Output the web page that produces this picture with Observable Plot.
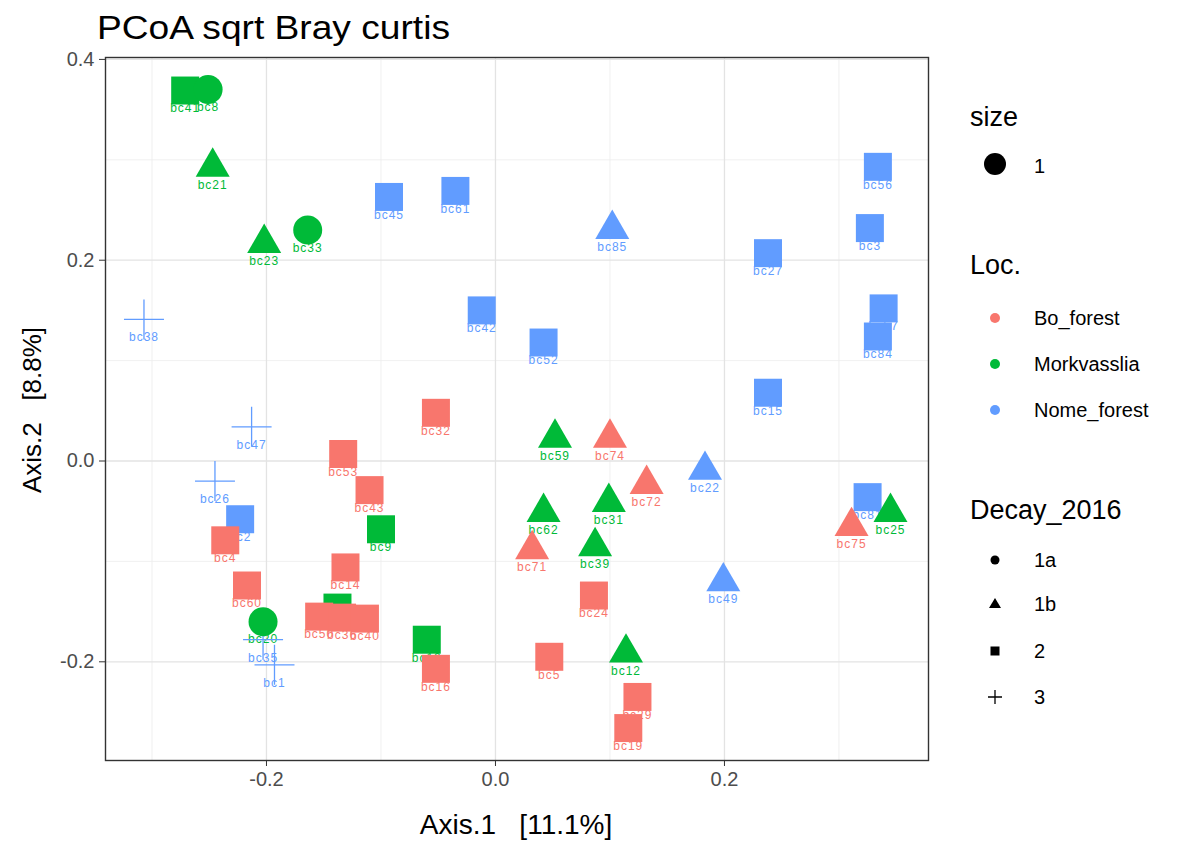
<!DOCTYPE html>
<html>
<head>
<meta charset="utf-8">
<script src="https://cdn.jsdelivr.net/npm/d3@7"></script>
<script src="https://cdn.jsdelivr.net/npm/@observablehq/plot@0.6"></script>
<style>
  html, body { margin: 0; padding: 0; background: #fff; }
  #wrap { position: relative; width: 1190px; height: 841px; font-family: "Liberation Sans", Arial, sans-serif; }
  #wrap > svg { position: absolute; left: 0; top: 0; }
  #chart g[aria-label="text"] text { letter-spacing: 1px; }
  .pre { white-space: pre; }
</style>
</head>
<body>
<div id="wrap"><div id="chart"></div></div>
<script>
// ---- data ----
const sampleIds = [
  // Nome_forest
  "bc45","bc61","bc85","bc42","bc52","bc56","bc3","bc27","bc57","bc84","bc15","bc22","bc49","bc81","bc2",
  "bc38","bc47","bc26","bc35","bc1",
  // Morkvasslia
  "bc41","bc8","bc21","bc23","bc33","bc59","bc62","bc31","bc39","bc12","bc9","bc7","bc10","bc25","bc20",
  // Bo_forest
  "bc32","bc74","bc72","bc71","bc24","bc5","bc16","bc29","bc19","bc75","bc53","bc43","bc14","bc50","bc36","bc40","bc4","bc60"
];
const locs = [
  "Nome_forest","Nome_forest","Nome_forest","Nome_forest","Nome_forest","Nome_forest","Nome_forest","Nome_forest","Nome_forest","Nome_forest","Nome_forest","Nome_forest","Nome_forest","Nome_forest","Nome_forest",
  "Nome_forest","Nome_forest","Nome_forest","Nome_forest","Nome_forest",
  "Morkvasslia","Morkvasslia","Morkvasslia","Morkvasslia","Morkvasslia","Morkvasslia","Morkvasslia","Morkvasslia","Morkvasslia","Morkvasslia","Morkvasslia","Morkvasslia","Morkvasslia","Morkvasslia","Morkvasslia",
  "Bo_forest","Bo_forest","Bo_forest","Bo_forest","Bo_forest","Bo_forest","Bo_forest","Bo_forest","Bo_forest","Bo_forest","Bo_forest","Bo_forest","Bo_forest","Bo_forest","Bo_forest","Bo_forest","Bo_forest","Bo_forest"
];
const decays = [
  "2","2","1b","2","2","2","2","2","2","2","2","1b","1b","2","2",
  "3","3","3","3","3",
  "2","1a","1b","1b","1a","1b","1b","1b","1b","1b","2","2","2","1b","1a",
  "2","1b","1b","1b","2","2","2","2","2","1b","2","2","2","2","2","2","2","2"
];
const axis1 = [
  -0.093,-0.035,0.102,-0.012,0.042,0.334,0.327,0.238,0.339,0.334,0.238,0.183,0.199,0.325,-0.223,
  -0.307,-0.213,-0.245,-0.203,-0.193,
  -0.271,-0.251,-0.247,-0.202,-0.164,0.052,0.042,0.099,0.087,0.114,-0.100,-0.138,-0.060,0.345,-0.203,
  -0.052,0.100,0.132,0.032,0.086,0.047,-0.052,0.124,0.116,0.311,-0.133,-0.110,-0.131,-0.154,-0.134,-0.114,-0.236,-0.217
];
const axis2 = [
  0.263,0.269,0.231,0.150,0.118,0.293,0.232,0.207,0.152,0.124,0.068,-0.009,-0.120,-0.036,-0.058,
  0.141,0.034,-0.020,-0.178,-0.203,
  0.369,0.370,0.293,0.217,0.230,0.023,-0.051,-0.041,-0.085,-0.191,-0.068,-0.146,-0.178,-0.051,-0.160,
  0.048,0.023,-0.023,-0.088,-0.134,-0.195,-0.207,-0.235,-0.266,-0.065,0.007,-0.029,-0.106,-0.155,-0.156,-0.157,-0.079,-0.124
];
const locLevels = ["Bo_forest","Morkvasslia","Nome_forest"];
const locColors = ["#F8766D","#00BA38","#619CFF"];
const decayLevels = ["1a","1b","2","3"];
const xTickValues = [-0.2, 0.0, 0.2];
const xMinorValues = [-0.3, -0.1, 0.1, 0.3];
const yTickValues = [-0.2, 0.0, 0.2, 0.4];
const yMinorValues = [-0.1, 0.1, 0.3];

const samples = sampleIds.map((id, i) => ({id, loc: locs[i], decay: decays[i], a1: axis1[i], a2: axis2[i]}));

// fixed-size symbols like ggplot shapes 16, 17, 15 and 3
const circleSym = {draw(ctx) { ctx.moveTo(14.5, 0); ctx.arc(0, 0, 14.5, 0, 2 * Math.PI); ctx.closePath(); }};
const triSym = {draw(ctx) { ctx.moveTo(0, -19.6); ctx.lineTo(17, 9.8); ctx.lineTo(-17, 9.8); ctx.closePath(); }};
const squareSym = {draw(ctx) { ctx.moveTo(-14, -14); ctx.lineTo(14, -14); ctx.lineTo(14, 14); ctx.lineTo(-14, 14); ctx.closePath(); }};
const plusSym = {draw(ctx) {
  const w = 0.65, a = 20;
  ctx.moveTo(-a, -w); ctx.lineTo(a, -w); ctx.lineTo(a, w); ctx.lineTo(-a, w); ctx.closePath();
  ctx.moveTo(-w, -a); ctx.lineTo(w, -a); ctx.lineTo(w, a); ctx.lineTo(-w, a); ctx.closePath();
}};

const fmt = d => d.toFixed(1);

const plot = Plot.plot({
  width: 1190,
  height: 841,
  marginLeft: 105,
  marginRight: 262,
  marginTop: 57,
  marginBottom: 81,
  style: {fontFamily: "Liberation Sans, Arial, sans-serif", background: "#fff"},
  x: {domain: [-0.3406, 0.3782]},
  y: {domain: [-0.2983, 0.4019]},
  color: {domain: locLevels, range: locColors},
  symbol: {domain: decayLevels, range: [circleSym, triSym, squareSym, plusSym]},
  marks: [
    Plot.gridX(xMinorValues, {stroke: "#ececec", strokeOpacity: 1, strokeWidth: 0.8}),
    Plot.gridY(yMinorValues, {stroke: "#ececec", strokeOpacity: 1, strokeWidth: 0.8}),
    Plot.gridX(xTickValues, {stroke: "#e3e3e3", strokeOpacity: 1, strokeWidth: 1.3}),
    Plot.gridY(yTickValues, {stroke: "#e3e3e3", strokeOpacity: 1, strokeWidth: 1.3}),
    Plot.axisX(xTickValues, {tickSize: 6, tickPadding: 5, fontSize: 20, fill: "#4d4d4d", stroke: "#333", tickFormat: fmt, label: null}),
    Plot.axisY(yTickValues, {tickSize: 6, tickPadding: 5, fontSize: 20, fill: "#4d4d4d", stroke: "#333", tickFormat: fmt, label: null}),
    Plot.text(samples, {x: "a1", y: "a2", text: "id", fill: "loc", dy: 18, fontSize: 12}),
    Plot.dot(samples, {x: "a1", y: "a2", fill: "loc", symbol: "decay", r: 10, stroke: null}),
    Plot.frame({stroke: "#333", strokeWidth: 1.4})
  ]
});
document.getElementById("chart").appendChild(plot);

// ---- overlay: title, axis titles, legend ----
const ov = d3.select("#wrap").append("svg")
  .attr("width", 1190).attr("height", 841)
  .style("pointer-events", "none")
  .style("font-family", "Liberation Sans, Arial, sans-serif");

ov.append("text").attr("x", 97).attr("y", 39).attr("font-size", 33).attr("fill", "#000")
  .attr("textLength", 353).attr("lengthAdjust", "spacingAndGlyphs")
  .text("PCoA sqrt Bray curtis");
ov.append("text").attr("class", "pre").attr("x", 516).attr("y", 834).attr("text-anchor", "middle")
  .attr("font-size", 28).attr("fill", "#000").text("Axis.1   [11.1%]");
ov.append("text").attr("class", "pre").attr("transform", "translate(41,410) rotate(-90)")
  .attr("text-anchor", "middle").attr("font-size", 26).attr("fill", "#000").text("Axis.2   [8.8%]");

const lg = ov.append("g");
const legTitle = (t, cy) => lg.append("text").attr("x", 970).attr("y", cy + 9).attr("font-size", 27).attr("fill", "#000").text(t);
const legLabel = (t, cy) => lg.append("text").attr("x", 1034).attr("y", cy + 7).attr("font-size", 20).attr("fill", "#000").text(t);

legTitle("size", 117);
lg.append("circle").attr("cx", 995).attr("cy", 164).attr("r", 11).attr("fill", "#000");
legLabel("1", 166);

legTitle("Loc.", 265);
const locY = [318, 364, 410];
locLevels.forEach((l, i) => {
  lg.append("circle").attr("cx", 995).attr("cy", locY[i]).attr("r", 5).attr("fill", locColors[i]);
  legLabel(l, locY[i]);
});

legTitle("Decay_2016", 510);
const decY = [560, 604, 651, 697];
lg.append("circle").attr("cx", 995).attr("cy", decY[0]).attr("r", 4.5).attr("fill", "#000");
lg.append("path").attr("d", `M995,${decY[1]-6}L1001,${decY[1]+4}L989,${decY[1]+4}Z`).attr("fill", "#000");
lg.append("rect").attr("x", 990.5).attr("y", decY[2]-4.5).attr("width", 9).attr("height", 9).attr("fill", "#000");
lg.append("path").attr("d", `M988,${decY[3]}H1002M995,${decY[3]-7}V${decY[3]+7}`).attr("stroke", "#000").attr("stroke-width", 1.3);
decayLevels.forEach((d, i) => legLabel(d, decY[i]));
</script>
</body>
</html>
